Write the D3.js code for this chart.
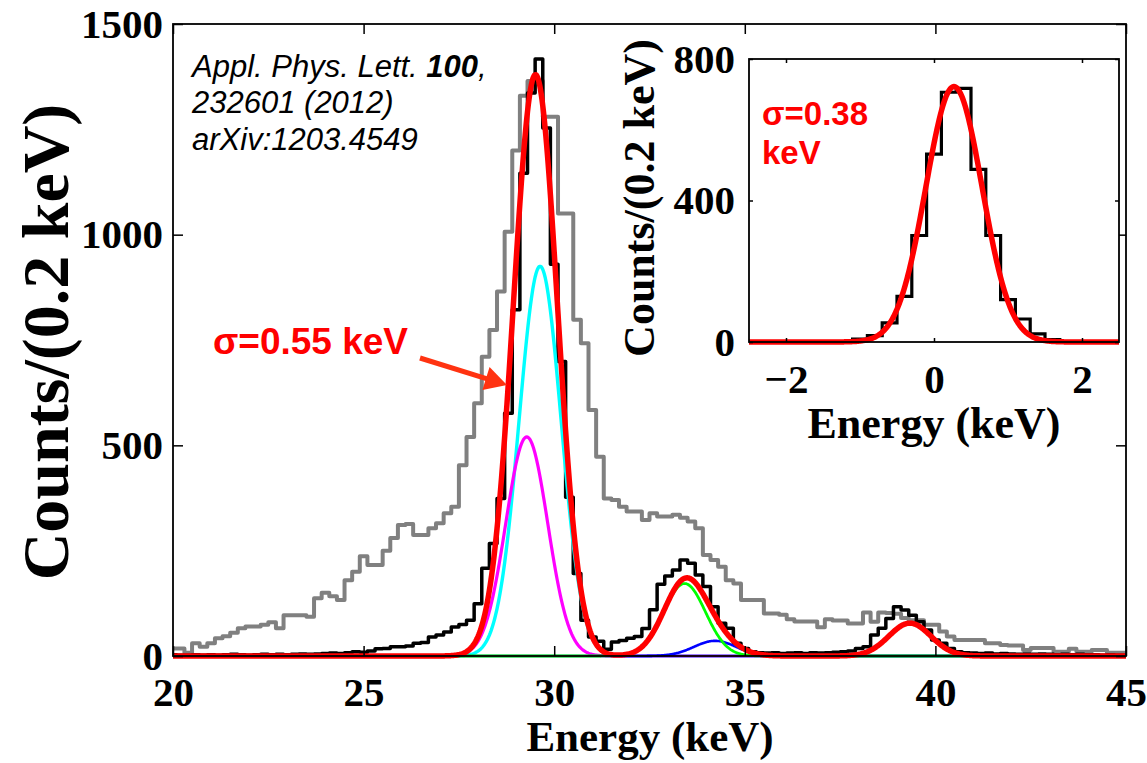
<!DOCTYPE html>
<html><head><meta charset="utf-8">
<script src="https://cdn.jsdelivr.net/npm/d3@7"></script>
<style>body{margin:0;background:#fff}</style>
</head><body>
<svg id="c" width="1147" height="763" xmlns="http://www.w3.org/2000/svg"></svg>
<script>
// ---------------- DATA ----------------
// main histograms: bin centres 20.0 ... 45.0 keV, 0.2 keV bins
const binStart = 20.0, binWidth = 0.2;
const grayCounts = [
  18,18,8,30,22,30,42,47,55,66, 70,70,74,80,66,97,97,97,93,137,
  150,142,133,180,200,237,216,216,250,280, 311,313,287,287,303,315,339,354,453,520,
  600,710,774,865,1007,1200,1330,1365,1365,1280, 1280,1050,1050,798,742,584,473,374,370,354,
  343,343,323,339,331,331,335,328,319,303, 240,228,212,180,172,133,133,133,101,101,
  98,87,82,82,82,68,87,84,84,77, 77,103,81,103,102,100,90,85,85,74,
  74,58,46,38,38,38,38,30,30,26, 25,25,14,19,19,19,10,10,17,10,
  10,14,14,8,8,8
];
const blackCounts = [
  3,2,2,3,2,3,2,3,4,3, 2,3,4,3,4,3,4,5,4,5,
  6,7,6,8,10,9,12,17,18,22, 22,24,30,32,45,50,57,69,75,85,
  124,208,267,374,576,822,1146,1336,1417,1253, 930,699,377,196,85,45,35,16,33,37,
  42,46,65,110,170,190,204,228,220,192, 165,117,78,66,30,18,10,8,7,8,
  6,7,8,6,8,7,8,9,10,12, 18,22,50,66,89,117,109,97,81,62,
  38,30,18,10,8,7,6,7,5,6, 5,4,5,4,5,4,3,4,3,4,
  3,3,2,3,2,2
];
// Gaussian fit components (centre keV, amplitude counts, sigma keV)
const fitNames   = ["magenta", "cyan", "green", "blue", "third"];
const fitCenters = [29.28, 29.63, 33.42, 34.22, 39.33];
const fitAmps    = [520, 925, 172, 36, 78];
const fitSigmas  = [0.55, 0.55, 0.55, 0.55, 0.55];

// inset histogram: bin centres -2.6 ... 2.6 keV
const insetStart = -2.6;
const insetCounts = [0,0,0,0,0,0,0,0,8,18,54,129,301,531,706,717,488,301,120,65,23,7,0,0,0,0,0];
const insetFit = {center: 0.27, amp: 722, sigma: 0.38};

const xTicks = [20,25,30,35,40,45];
const yTicks = [0,500,1000,1500];
const insetXTicks = [-2,0,2];
const insetYTicks = [0,400,800];

// ---------------- DRAW ----------------
const svg = d3.select('#c');
const serif = '"Liberation Serif","Times New Roman",serif';
const sans = '"Liberation Sans",Arial,sans-serif';

const x = d3.scaleLinear().domain([20,45]).range([173,1126]);
const y = d3.scaleLinear().domain([0,1500]).range([656,24]);

const defs = svg.append('defs');
defs.append('clipPath').attr('id','mclip').append('rect')
  .attr('x',173).attr('y',0).attr('width',1126-173).attr('height',664);

const gauss = (e,c,a,s) => a*Math.exp(-(e-c)*(e-c)/(2*s*s));
const grid = d3.range(20, 45.0001, 0.02);

const histPts = arr => arr.map((v,i)=>[binStart+i*binWidth, v]);
const stepLine = d3.line().x(d=>x(d[0])).y(d=>y(d[1])).curve(d3.curveStep);
const smooth = d3.line().x(d=>x(d[0])).y(d=>y(d[1]));

const plot = svg.append('g').attr('clip-path','url(#mclip)');
plot.append('path').attr('d',stepLine(histPts(grayCounts)))
  .attr('fill','none').attr('stroke','#808080').attr('stroke-width',4).attr('stroke-linejoin','round');
plot.append('path').attr('d',stepLine(histPts(blackCounts)))
  .attr('fill','none').attr('stroke','#000').attr('stroke-width',3.5).attr('stroke-linejoin','round');

const compColor = {magenta:'#ff00ff', cyan:'#00ffff', green:'#00ff00', blue:'#0000ff'};
const compWidth = {magenta:3.2, cyan:3.4, green:2.8, blue:2.6};
['cyan','magenta','blue','green'].forEach(nm=>{
  const i = fitNames.indexOf(nm);
  const pts = grid.map(e=>[e, gauss(e,fitCenters[i],fitAmps[i],fitSigmas[i])]);
  plot.append('path').attr('d',smooth(pts)).attr('fill','none')
    .attr('stroke',compColor[nm]).attr('stroke-width',compWidth[nm]);
});
const totalPts = grid.map(e=>[e, d3.sum(fitNames.map((n,i)=>gauss(e,fitCenters[i],fitAmps[i],fitSigmas[i])))]);
plot.append('path').attr('d',smooth(totalPts)).attr('fill','none')
  .attr('stroke','#ff0000').attr('stroke-width',5.5).attr('stroke-linejoin','round');

// frame & axes (MATLAB-like, inward ticks on all sides)
svg.append('rect').attr('x',173).attr('y',24).attr('width',1126-173).attr('height',656-24)
  .attr('fill','none').attr('stroke','#000').attr('stroke-width',1.8);

function styleAxis(g, fs){
  g.select('.domain').remove();
  g.selectAll('line').attr('stroke','#000').attr('stroke-width',1.5);
  g.selectAll('text').attr('font-family',serif).attr('font-weight','bold')
    .attr('font-size',fs).attr('fill','#000');
}
const fmt = d3.format('d');
svg.append('g').attr('transform','translate(0,656)')
  .call(d3.axisBottom(x).tickValues(xTicks).tickSizeInner(-10).tickSizeOuter(0).tickPadding(21).tickFormat(fmt))
  .call(g=>styleAxis(g,41));
svg.append('g').attr('transform','translate(0,24)')
  .call(d3.axisTop(x).tickValues(xTicks).tickSizeInner(-10).tickSizeOuter(0).tickFormat(''))
  .call(g=>styleAxis(g,41));
svg.append('g').attr('transform','translate(173,0)')
  .call(d3.axisLeft(y).tickValues(yTicks).tickSizeInner(-10).tickSizeOuter(0).tickPadding(10).tickFormat(fmt))
  .call(g=>styleAxis(g,41));
svg.append('g').attr('transform','translate(1126,0)')
  .call(d3.axisRight(y).tickValues(yTicks).tickSizeInner(-10).tickSizeOuter(0).tickFormat(''))
  .call(g=>styleAxis(g,41));

svg.append('text').attr('x',650).attr('y',751).attr('text-anchor','middle')
  .attr('font-family',serif).attr('font-weight','bold').attr('font-size',43).text('Energy (keV)');
svg.append('text').attr('transform','translate(68,342) rotate(-90)').attr('text-anchor','middle')
  .attr('font-family',serif).attr('font-weight','bold').attr('font-size',66).text('Counts/(0.2 keV)');

// citation
const cite = svg.append('text').attr('font-family',sans).attr('font-style','italic').attr('font-size',31).attr('fill','#000');
const l1 = cite.append('tspan').attr('x',192).attr('y',77);
l1.append('tspan').text('Appl. Phys. Lett. ');
l1.append('tspan').attr('font-weight','bold').text('100');
l1.append('tspan').text(',');
cite.append('tspan').attr('x',192).attr('y',113).text('232601 (2012)');
cite.append('tspan').attr('x',192).attr('y',150).text('arXiv:1203.4549');

// sigma annotation + arrow
svg.append('text').attr('x',213).attr('y',354).attr('font-family',sans).attr('font-weight','bold')
  .attr('font-size',37).attr('fill','#ff0000').text('σ=0.55 keV');
const ax0=[420,358], ax1=[507,385];
const dx=ax1[0]-ax0[0], dy=ax1[1]-ax0[1], L=Math.hypot(dx,dy), ux=dx/L, uy=dy/L;
const hl=22, hw=12;
const bx=ax1[0]-ux*hl, by=ax1[1]-uy*hl;
svg.append('line').attr('x1',ax0[0]).attr('y1',ax0[1]).attr('x2',bx+ux*2).attr('y2',by+uy*2)
  .attr('stroke','#ff3311').attr('stroke-width',5);
svg.append('path').attr('d',`M${ax1[0]},${ax1[1]}L${bx-uy*hw},${by+ux*hw}L${bx+uy*hw},${by-ux*hw}Z`)
  .attr('fill','#ff3311');

// ---------------- INSET ----------------
const ix = d3.scaleLinear().domain([-2.5,2.5]).range([749,1119]);
const iy = d3.scaleLinear().domain([0,800]).range([342,59]);
defs.append('clipPath').attr('id','iclip').append('rect')
  .attr('x',749).attr('y',40).attr('width',1119-749).attr('height',306);
svg.append('rect').attr('x',749).attr('y',59).attr('width',1119-749).attr('height',342-59).attr('fill','#fff');
const ig = svg.append('g').attr('clip-path','url(#iclip)');
const iStep = d3.line().x(d=>ix(d[0])).y(d=>iy(d[1])).curve(d3.curveStep);
const iSmooth = d3.line().x(d=>ix(d[0])).y(d=>iy(d[1]));
ig.append('path').attr('d',iStep(insetCounts.map((v,i)=>[insetStart+i*binWidth, v])))
  .attr('fill','none').attr('stroke','#000').attr('stroke-width',3.2);
const igrid = d3.range(-2.5, 2.5001, 0.01);
ig.append('path').attr('d',iSmooth(igrid.map(e=>[e, gauss(e,insetFit.center,insetFit.amp,insetFit.sigma)])))
  .attr('fill','none').attr('stroke','#ff0000').attr('stroke-width',5.5);
svg.append('rect').attr('x',749).attr('y',59).attr('width',1119-749).attr('height',342-59)
  .attr('fill','none').attr('stroke','#000').attr('stroke-width',1.8);
svg.append('g').attr('transform','translate(0,342)')
  .call(d3.axisBottom(ix).tickValues(insetXTicks).tickSizeInner(-4).tickSizeOuter(0).tickPadding(22).tickFormat(fmt))
  .call(g=>styleAxis(g,41));
svg.append('g').attr('transform','translate(0,59)')
  .call(d3.axisTop(ix).tickValues(insetXTicks).tickSizeInner(-4).tickSizeOuter(0).tickFormat(''))
  .call(g=>styleAxis(g,41));
svg.append('g').attr('transform','translate(749,0)')
  .call(d3.axisLeft(iy).tickValues(insetYTicks).tickSizeInner(-4).tickSizeOuter(0).tickPadding(14).tickFormat(fmt))
  .call(g=>styleAxis(g,41));
svg.append('g').attr('transform','translate(1119,0)')
  .call(d3.axisRight(iy).tickValues(insetYTicks).tickSizeInner(-4).tickSizeOuter(0).tickFormat(''))
  .call(g=>styleAxis(g,41));
svg.append('text').attr('x',934).attr('y',438).attr('text-anchor','middle')
  .attr('font-family',serif).attr('font-weight','bold').attr('font-size',44).text('Energy (keV)');
svg.append('text').attr('transform','translate(654,198) rotate(-90)').attr('text-anchor','middle')
  .attr('font-family',serif).attr('font-weight','bold').attr('font-size',44).text('Counts/(0.2 keV)');
svg.append('text').attr('font-family',sans).attr('font-weight','bold').attr('font-size',33).attr('fill','#ff0000')
  .call(t=>{t.append('tspan').attr('x',762).attr('y',125).text('σ=0.38');
            t.append('tspan').attr('x',762).attr('y',164).text('keV');});
</script>
</body></html>
